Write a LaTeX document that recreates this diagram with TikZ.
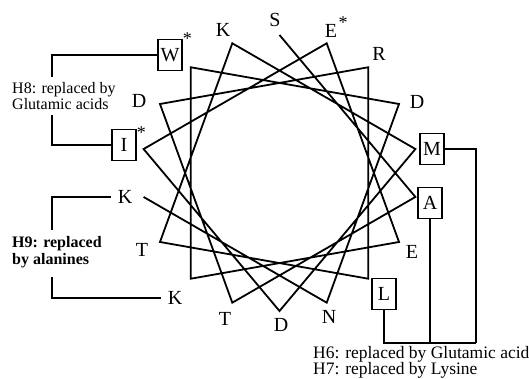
\documentclass[tikz,border=0pt]{standalone}
\usepackage{fontspec}
\setmainfont{Liberation Serif}
\usetikzlibrary{positioning, calc}

\begin{document}
\begin{tikzpicture}[
    x=1pt, y=1pt,
    res/.style={font=\fontsize{20}{22}\selectfont, inner xsep=7pt, inner ysep=1pt},
    resbox/.style={res, draw, line width=1.5pt, minimum width=24pt, minimum height=31pt, inner sep=0pt},
    starlbl/.style={font=\fontsize{18}{18}\selectfont, inner sep=0pt, anchor=west},
    wheel/.style={line width=1.8pt, line join=miter},
    link/.style={line width=1.6pt},
    note/.style={font=\fontsize{16}{16}\selectfont, align=left, inner sep=0pt, anchor=north west}
]
\useasboundingbox (0,0) rectangle (529,379);
\coordinate (c) at (279.5,206);

% wheel: one residue every 100 degrees
\foreach \i in {0,...,17}
  \coordinate (v\i) at ($(c)+({90-100*\i}:138)$);
\draw[wheel] (v0) \foreach \i in {1,...,17} { -- (v\i) };

% residues
\node[res] (t0) at (275,359) {S};
\node[resbox] (t1) at (430,176) {A};
\node[res] (t2) at (225,60) {T};
\node[res] (t3) at (139,278) {D};
\node[res] (t4) at (379,325) {R};
\node[resbox] (t5) at (384,85) {L};
\node[res] (t6) at (142,129) {T};
\node[res] (t7) at (223,349) {K};
\node[resbox] (t8) at (432,230) {M};
\node[res] (t9) at (281,54) {D};
\node[resbox, label={[starlbl, yshift=-4pt]north east:*}] (t10) at (124,234) {I};
\node[res, inner xsep=1pt, label={[starlbl, yshift=1pt]north east:*}] (t11) at (331,348) {E};
\node[res] (t12) at (412,127) {E};
\node[res] (t13) at (175,81) {K};
\node[resbox, label={[starlbl]north east:*}] (t14) at (170,324) {W};
\node[res] (t15) at (417,277) {D};
\node[res] (t16) at (329,62) {N};
\node[res] (t17) at (125,182) {K};

% notes
\node[note] (h8) at (12,297) {H8: replaced by\\Glutamic acids};
\node[note, font=\fontsize{16}{17}\selectfont\bfseries] (h9) at (12,143) {H9: replaced\\by alanines};
\node[note, font=\fontsize{17.5}{16.5}\selectfont] (h6) at (313,33) {H6: replaced by Glutamic acid\\H7: replaced by Lysine};

\coordinate (h8a) at (52,302);
\coordinate (h8b) at (52,264);
\coordinate (h9a) at (52,149);
\coordinate (h9b) at (52,102);
\coordinate (h6c) at (476,36);

\draw[link] (t14.west) -| (h8a);
\draw[link] (h8b) |- (t10.west);
\draw[link] (t17.west) -| (h9a);
\draw[link] (h9b) |- (t13.west);
\draw[link] (t8.east) -| (h6c);
\draw[link] (t1.south) -- (t1.south |- h6c);
\draw[link] (t5.south) |- (h6c);
\end{tikzpicture}
\end{document}
